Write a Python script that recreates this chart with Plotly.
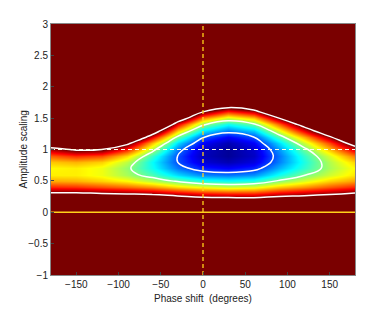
import plotly.graph_objects as go

# Phase shift grid (degrees) and amplitude scaling grid
phase = [-180, -150, -120, -90, -60, -30, 0, 30, 60, 90, 120, 150, 180]
amplitude = [-1.0, 0.0, 0.1, 0.2, 0.3, 0.4, 0.5, 0.6, 0.7, 0.8, 0.9, 1.0,
             1.1, 1.2, 1.3, 1.4, 1.5, 1.6, 1.7, 1.8, 1.9, 3.0]

# Error map values (rows = amplitude, cols = phase)
error_map = [
    [2.0, 2.0, 2.0, 2.0, 2.0, 2.0, 2.0, 2.0, 2.0, 2.0, 2.0, 2.0, 2.0],
    [1.91, 1.98, 1.98, 1.96, 1.93, 1.87, 1.79, 1.74, 1.72, 1.73, 1.70, 1.72, 1.85],
    [1.56, 1.60, 1.59, 1.57, 1.55, 1.50, 1.43, 1.39, 1.38, 1.41, 1.40, 1.43, 1.52],
    [1.26, 1.28, 1.26, 1.24, 1.22, 1.17, 1.11, 1.09, 1.08, 1.13, 1.14, 1.17, 1.24],
    [1.02, 1.02, 1.00, 0.98, 0.95, 0.89, 0.84, 0.82, 0.82, 0.88, 0.92, 0.96, 1.01],
    [0.84, 0.83, 0.80, 0.77, 0.73, 0.66, 0.61, 0.58, 0.60, 0.68, 0.73, 0.79, 0.84],
    [0.71, 0.70, 0.67, 0.63, 0.56, 0.48, 0.41, 0.39, 0.41, 0.51, 0.59, 0.67, 0.72],
    [0.64, 0.64, 0.61, 0.54, 0.45, 0.34, 0.26, 0.24, 0.27, 0.39, 0.49, 0.58, 0.65],
    [0.63, 0.64, 0.61, 0.52, 0.39, 0.24, 0.15, 0.12, 0.16, 0.30, 0.42, 0.54, 0.63],
    [0.68, 0.70, 0.67, 0.56, 0.38, 0.20, 0.08, 0.04, 0.09, 0.25, 0.40, 0.55, 0.67],
    [0.78, 0.83, 0.80, 0.66, 0.43, 0.20, 0.05, 0.01, 0.06, 0.24, 0.42, 0.59, 0.76],
    [0.94, 1.02, 1.00, 0.83, 0.54, 0.24, 0.06, 0.01, 0.07, 0.27, 0.47, 0.68, 0.90],
    [1.16, 1.28, 1.26, 1.05, 0.69, 0.34, 0.12, 0.04, 0.12, 0.34, 0.57, 0.81, 1.09],
    [1.43, 1.60, 1.59, 1.34, 0.90, 0.48, 0.21, 0.12, 0.20, 0.45, 0.70, 0.98, 1.34],
    [1.76, 1.98, 1.98, 1.68, 1.16, 0.66, 0.35, 0.24, 0.32, 0.59, 0.88, 1.20, 1.64],
    [2.0, 2.0, 2.0, 2.0, 1.48, 0.89, 0.52, 0.39, 0.48, 0.78, 1.09, 1.45, 1.99],
    [2.0, 2.0, 2.0, 2.0, 1.85, 1.17, 0.74, 0.58, 0.68, 1.00, 1.34, 1.75, 2.0],
    [2.0, 2.0, 2.0, 2.0, 2.0, 1.50, 1.00, 0.82, 0.92, 1.26, 1.64, 2.0, 2.0],
    [2.0, 2.0, 2.0, 2.0, 2.0, 1.87, 1.30, 1.09, 1.20, 1.56, 1.97, 2.0, 2.0],
    [2.0, 2.0, 2.0, 2.0, 2.0, 2.0, 1.64, 1.39, 1.51, 1.91, 2.0, 2.0, 2.0],
    [2.0, 2.0, 2.0, 2.0, 2.0, 2.0, 2.0, 1.74, 1.86, 2.0, 2.0, 2.0, 2.0],
    [2.0, 2.0, 2.0, 2.0, 2.0, 2.0, 2.0, 2.0, 2.0, 2.0, 2.0, 2.0, 2.0],
]

contour_levels = [0.2, 0.5, 1.0]
x_ticks = [-150, -100, -50, 0, 50, 100, 150]
y_ticks = [-1, -0.5, 0, 0.5, 1, 1.5, 2, 2.5, 3]
y_tick_text = ["\u22121", "\u22120.5", "0", "0.5", "1", "1.5", "2", "2.5", "3"]

jet = [[0.0, "#00008F"], [0.125, "#0000FF"], [0.375, "#00FFFF"],
       [0.625, "#FFFF00"], [0.875, "#FF0000"], [1.0, "#7A0000"]]

fig = go.Figure()
fig.add_trace(go.Heatmap(
    x=phase, y=amplitude, z=error_map, zmin=0, zmax=1,
    colorscale=jet, zsmooth="best", showscale=False, hoverinfo="skip"))

for lv in contour_levels:
    fig.add_trace(go.Contour(
        x=phase, y=amplitude, z=error_map,
        contours=dict(start=lv, end=lv, size=1, coloring="none"),
        line=dict(color="white", width=1.5, smoothing=1.3),
        showscale=False, hoverinfo="skip"))

# reference lines
fig.add_trace(go.Scatter(x=[0, 0], y=[-1, 3], mode="lines",
                         line=dict(color="#FFD21A", width=1.3, dash="4px,3px"),
                         hoverinfo="skip"))
fig.add_trace(go.Scatter(x=[-180, 180], y=[1, 1], mode="lines",
                         line=dict(color="#FFFFE6", width=1.2, dash="4px,3px"),
                         hoverinfo="skip"))
fig.add_trace(go.Scatter(x=[-180, 180], y=[0, 0], mode="lines",
                         line=dict(color="#FFD21A", width=1.3),
                         hoverinfo="skip"))

font = dict(family="Liberation Sans, Arial, sans-serif", size=10, color="#222")
# the page body adds an 8px offset; margins compensate so the plot area
# sits at x 51-355, y 24-275 in the window
fig.update_layout(
    width=392, height=310,
    margin=dict(l=43, r=45, t=16, b=43),
    paper_bgcolor="white", plot_bgcolor="white",
    showlegend=False, font=font,
    xaxis=dict(range=[-180, 180], tickvals=x_ticks, ticks="inside", ticklen=3,
               tickcolor="#444", showline=True, linecolor="#888", linewidth=1,
               mirror=True, showgrid=False, zeroline=False, automargin=False),
    yaxis=dict(range=[-1, 3], tickvals=y_ticks, ticktext=y_tick_text,
               ticks="inside", ticklen=3, tickcolor="#444", showline=True,
               linecolor="#888", linewidth=1, mirror=True, showgrid=False,
               zeroline=False, automargin=False),
    annotations=[
        dict(text="Phase shift \u00a0(degrees)", xref="paper", yref="paper",
             x=0.5, y=0, xanchor="center", yanchor="middle", yshift=-23,
             showarrow=False, font=dict(size=10)),
        dict(text="Amplitude scaling", xref="paper", yref="paper",
             x=0, y=0.5, xanchor="center", yanchor="middle", xshift=-28,
             textangle=-90, showarrow=False, font=dict(size=10)),
    ],
)

fig.write_html("out.html")
